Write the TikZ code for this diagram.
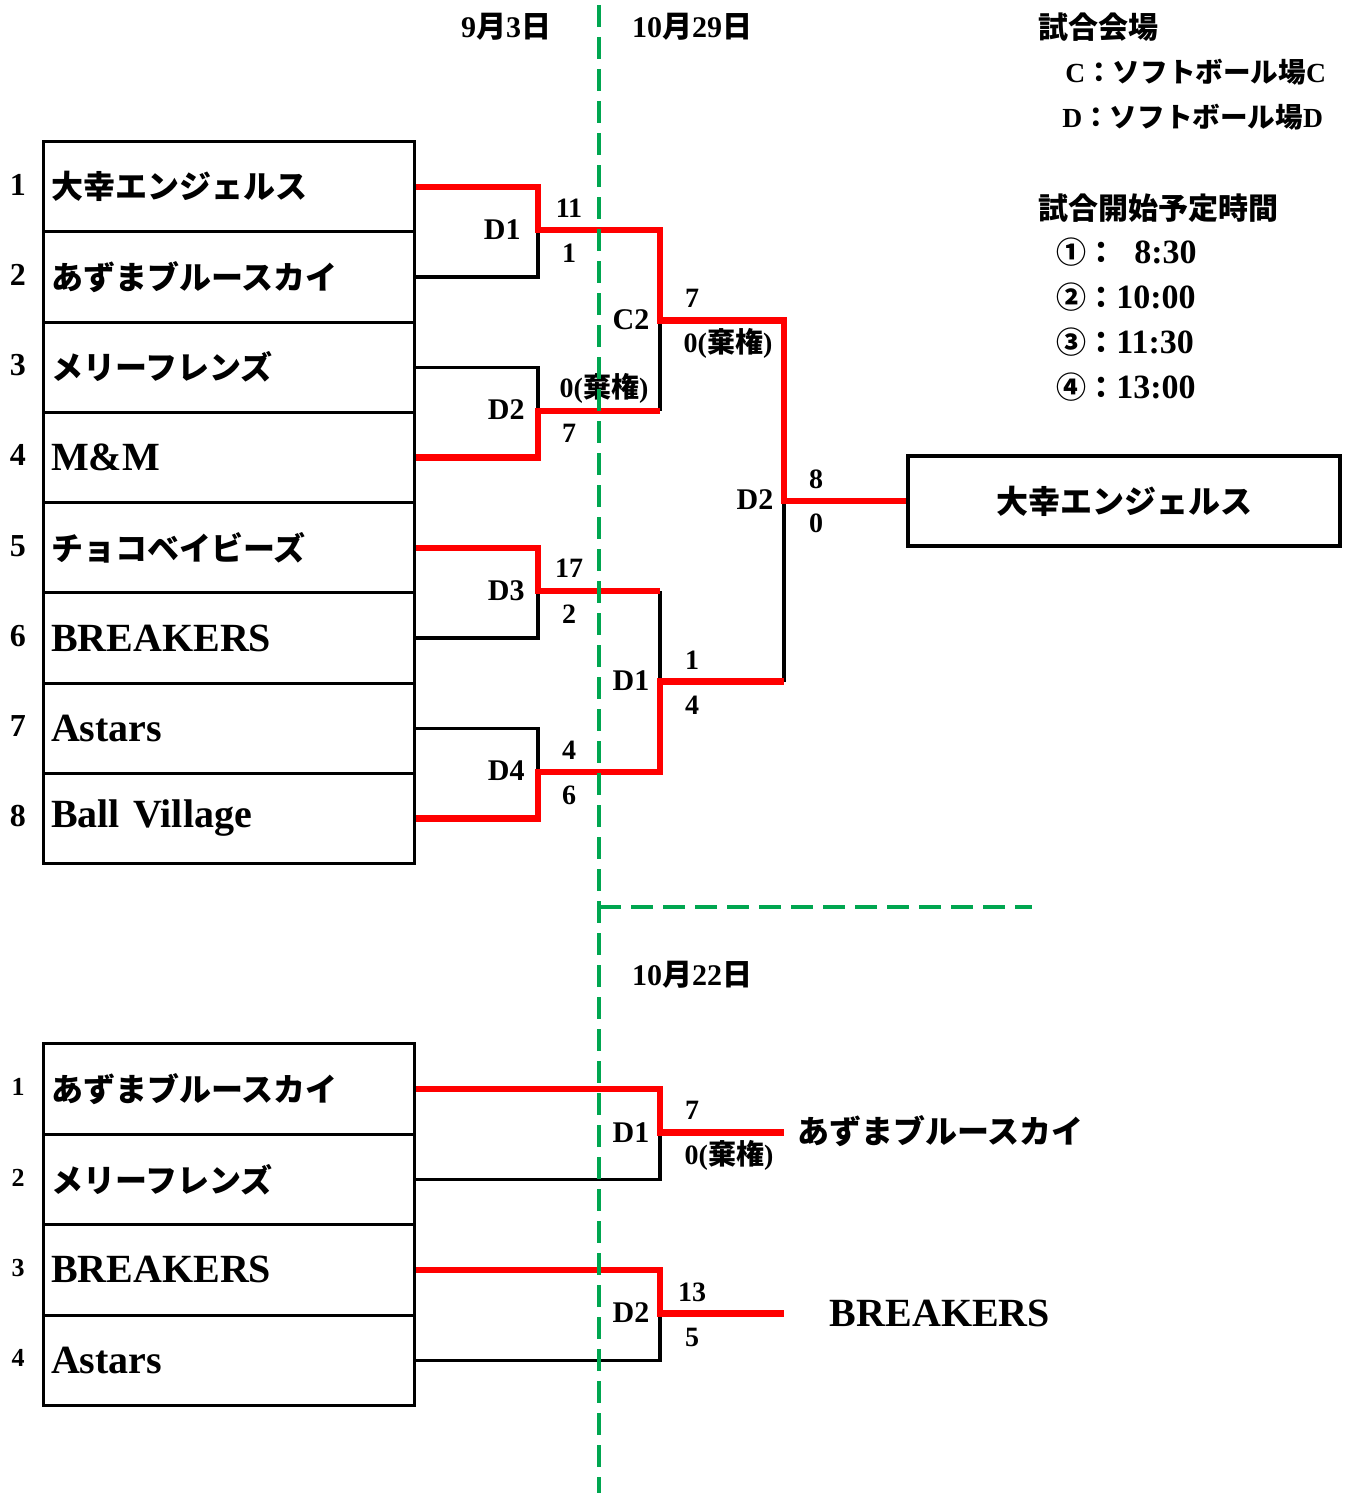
\documentclass[tikz,border=0pt]{standalone}
\usepackage{fontspec}
\setmainfont{Liberation Serif}
\newfontfamily\jpf{Noto Sans CJK JP}
\newcommand\J[1]{{\jpf\bfseries #1}}
\newcommand\JT[1]{{\jpf\bfseries\fontsize{16}{20}\selectfont #1}}
\definecolor{gr}{RGB}{0,166,80}
\begin{document}
\begin{tikzpicture}[x=0.5pt,y=-0.5pt,
  team/.style={draw, line width=1.6pt, minimum width=185.5pt, minimum height=45.125pt,
    text width=178pt, inner xsep=3.75pt, align=left, anchor=north west,
    font=\bfseries\fontsize{20}{24}\selectfont},
  teamb/.style={team, minimum height=45.25pt},
  seed/.style={font=\bfseries\fontsize{16}{18}\selectfont, inner sep=0pt},
  seedb/.style={font=\bfseries\fontsize{13}{15}\selectfont, inner sep=0pt},
  win/.style={draw=red, line width=3.2pt},
  lose/.style={draw=black, line width=1.6pt},
  sc/.style={font=\bfseries\fontsize{14}{16}\selectfont, inner sep=0pt},
  ml/.style={font=\bfseries\fontsize{15}{17}\selectfont, inner sep=0pt},
  info/.style={font=\bfseries\fontsize{15}{18}\selectfont, inner sep=0pt, anchor=west},
  infos/.style={font=\bfseries\fontsize{13.8}{16}\selectfont, inner sep=0pt, anchor=west},
  infot/.style={font=\bfseries\fontsize{17}{20}\selectfont, inner sep=0pt, anchor=west},
  date/.style={font=\bfseries\fontsize{15}{17}\selectfont, inner sep=0pt}
]
\useasboundingbox (0,0) rectangle (1344,1493);

% top bracket teams
\node[team] (t1) at (42,140)    {\JT{大幸エンジェルス}};
\node[team] (t2) at (42,230.25) {\JT{あずまブルースカイ}};
\node[team] (t3) at (42,320.5)  {\JT{メリーフレンズ}};
\node[team] (t4) at (42,410.75) {M\&M};
\node[team] (t5) at (42,501)    {\JT{チョコベイビーズ}};
\node[team] (t6) at (42,591.25) {BREAKERS};
\node[team] (t7) at (42,681.5)  {Astars};
\node[team] (t8) at (42,771.75) {Ball Village};
\foreach \i/\y in {1/185,2/275,3/365,4/455,5/546,6/636,7/726,8/816}
  \node[seed] (s\i) at (18,\y) {\i};

% junctions
\coordinate (a1) at (538,230.25);
\coordinate (a2) at (538,410.75);
\coordinate (a3) at (538,591.25);
\coordinate (a4) at (538,771.75);
\coordinate (b1) at (660,230.25);
\coordinate (b2) at (660,410.75);
\coordinate (b3) at (660,591.25);
\coordinate (b4) at (660,771.75);
\coordinate (c1) at (660,320.5);
\coordinate (c2) at (660,681.5);
\coordinate (d1) at (784,320.5);
\coordinate (d2) at (784,681.5);
\coordinate (e)  at (784,501);

\node[draw, line width=1.6pt, minimum width=216pt, minimum height=45pt, anchor=center,
  font=\bfseries] (champ) at (1124,501) {\JT{大幸エンジェルス}};

% losing lines
\draw[lose] (t2.east) -| (a1);
\draw[lose] (t3.east) -| (a2);
\draw[lose] (t6.east) -| (a3);
\draw[lose] (t7.east) -| (a4);
\draw[lose] (b2) -- (c1);
\draw[lose] (b3) -- (c2);
\draw[lose] (d2) -- (e);
% winning lines
\draw[win] (t1.east) -| (a1) -- (b1) -- (c1) -- (d1) -- (e) -- (champ.west);
\draw[win] (t4.east) -| (a2) -- (b2);
\draw[win] (t5.east) -| (a3) -- (b3);
\draw[win] (t8.east) -| (a4) -- (b4) -- (c2) -- (d2);

% match labels and scores
\node[ml, anchor=east] (m1) at (521,230) {D1};
\node[ml, anchor=east] (m2) at (525,410) {D2};
\node[ml, anchor=east] (m3) at (525,591) {D3};
\node[ml, anchor=east] (m4) at (525,771) {D4};
\node[sc] (x1a) at (569,208) {11};
\node[sc] (x1b) at (569,253) {1};
\node[sc] (x2a) at (604,388) {0(\J{棄権})};
\node[sc] (x2b) at (569,433) {7};
\node[sc] (x3a) at (569,568) {17};
\node[sc] (x3b) at (569,614) {2};
\node[sc] (x4a) at (569,750) {4};
\node[sc] (x4b) at (569,795) {6};
\node[ml] (m5) at (631,320) {C2};
\node[sc] (x5a) at (692,298) {7};
\node[sc] (x5b) at (728,343) {0(\J{棄権})};
\node[ml] (m6) at (631,681) {D1};
\node[sc] (x6a) at (692,660) {1};
\node[sc] (x6b) at (692,705) {4};
\node[ml] (m7) at (755,500) {D2};
\node[sc] (x7a) at (816,479) {8};
\node[sc] (x7b) at (816,523) {0};

% dates
\node[date] (dt1) at (506,27) {9\J{月}3\J{日}};
\node[date] (dt2) at (692,27) {10\J{月}29\J{日}};
\node[date] (dt3) at (692,975) {10\J{月}22\J{日}};

% info
\node[info] (i1) at (1038,27) {\J{試合会場}};
\node[infos] (i2) at (1065,72) {C\J{：}\J{ソフトボール場}C};
\node[infos] (i3) at (1062,117) {D\J{：}\J{ソフトボール場}D};
\node[info] (i4) at (1038,208) {\J{試合開始予定時間}};
\node[infot] (i5) at (1056,252) {{\fontsize{15}{18}\selectfont\J{①}\J{：}}\hspace{9pt}8:30};
\node[infot] (i6) at (1056,297) {{\fontsize{15}{18}\selectfont\J{②}\J{：}}10:00};
\node[infot] (i7) at (1056,342) {{\fontsize{15}{18}\selectfont\J{③}\J{：}}11:30};
\node[infot] (i8) at (1056,387) {{\fontsize{15}{18}\selectfont\J{④}\J{：}}13:00};

% bottom bracket
\node[teamb] (u1) at (42,1042)   {\JT{あずまブルースカイ}};
\node[teamb] (u2) at (42,1132.5) {\JT{メリーフレンズ}};
\node[teamb] (u3) at (42,1223)   {BREAKERS};
\node[teamb] (u4) at (42,1313.5) {Astars};
\foreach \i/\y in {1/1087,2/1178,3/1268,4/1358}
  \node[seedb] (v\i) at (18,\y) {\i};
\coordinate (p1) at (660,1132.5);
\coordinate (q1) at (784,1132.5);
\coordinate (p2) at (660,1313.5);
\coordinate (q2) at (784,1313.5);
\draw[lose] (u2.east) -| (p1);
\draw[lose] (u4.east) -| (p2);
\draw[win] (u1.east) -| (p1) -- (q1);
\draw[win] (u3.east) -| (p2) -- (q2);
\node[ml] (n1) at (631,1133) {D1};
\node[sc] (y1a) at (692,1110) {7};
\node[sc] (y1b) at (729,1155) {0(\J{棄権})};
\node[ml] (n2) at (631,1313) {D2};
\node[sc] (y2a) at (692,1292) {13};
\node[sc] (y2b) at (692,1337) {5};
\node[anchor=west, inner sep=0pt] (w1) at (797,1131) {\JT{あずまブルースカイ}};
\node[inner sep=0pt, font=\bfseries\fontsize{20}{24}\selectfont] (w2) at (940,1313) {BREAKERS};

% green dashed separators
\draw[gr, line width=2pt, dash pattern=on 11pt off 5pt] (599,5) -- (599,1493);
\draw[gr, line width=2pt, dash pattern=on 11pt off 5pt] (599,907) -- (1032,907);
\end{tikzpicture}
\end{document}
